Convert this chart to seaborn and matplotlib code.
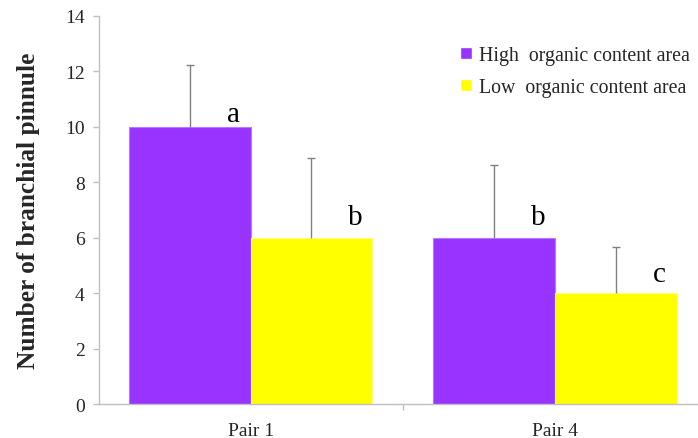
import numpy as np
import pandas as pd
import matplotlib
matplotlib.use("Agg")
import matplotlib.pyplot as plt
import seaborn as sns

# ---------------------------------------------------------------------------
# Data
# ---------------------------------------------------------------------------
pairs = ["Pair 1", "Pair 4"]
areas = ["High  organic content area", "Low  organic content area"]
high_vals = [10, 6]
low_vals = [6, 4]
high_err = [2.24, 2.63]
low_err = [2.88, 1.66]
high_letters = ["a", "b"]
low_letters = ["b", "c"]
high_letter_y = [10.2, 6.5]
low_letter_y = [6.5, 4.45]

colors = {areas[0]: "#9933FF", areas[1]: "#FFFF00"}
edges = {areas[0]: "#B57AFF", areas[1]: "#FFFF80"}

df = pd.DataFrame({
    "pair": pairs * 2,
    "area": [areas[0]] * 2 + [areas[1]] * 2,
    "value": high_vals + low_vals,
})

sns.set_style("white")
plt.rcParams["font.family"] = ["Liberation Serif", "DejaVu Serif"]

fig = plt.figure(figsize=(6.98, 4.39), dpi=100)
W, H = 698, 439
ax = fig.add_axes([98.5 / W, (H - 405.3) / H, (707 - 98.5) / W, (405.3 - 16.7) / H])

sns.barplot(data=df, x="pair", y="value", hue="area", order=pairs,
            hue_order=areas, palette=colors, errorbar=None, width=0.8,
            saturation=1, ax=ax, legend=True)

errs = [high_err, low_err]
letters = [high_letters, low_letters]
letter_y = [high_letter_y, low_letter_y]
bar_containers = list(ax.containers)
for i, cont in enumerate(bar_containers):
    xs = [p.get_x() + p.get_width() / 2 for p in cont.patches]
    hs = [p.get_height() for p in cont.patches]
    for p in cont.patches:
        p.set_edgecolor(edges[areas[i]])
        p.set_linewidth(0.8)
    eb = ax.errorbar(xs, hs, yerr=[np.zeros(len(xs)), errs[i]], fmt="none",
                     ecolor="#808080", elinewidth=1, capsize=3, capthick=1,
                     zorder=3)
    # only the upper cap is drawn in the original
    eb[1][0].set_visible(False)
    for x, ly, lt in zip(xs, letter_y[i], letters[i]):
        ax.text(x + 0.145, ly, lt, ha="center", va="baseline", fontsize=21,
                color="black")

ax.set_xlim(-0.5, 1.5)
ax.set_ylim(0, 14)
ax.set_yticks(np.arange(0, 15, 2))
ax.set_xlabel("")
ax.set_ylabel("Number of branchial pinnule", fontsize=18.3, fontweight="bold",
              labelpad=18)

for s in ["top", "right"]:
    ax.spines[s].set_visible(False)
for s in ["left", "bottom"]:
    ax.spines[s].set_color("#BFBFBF")
    ax.spines[s].set_linewidth(1)

ax.tick_params(axis="y", direction="out", length=4.5, width=1, color="#BFBFBF",
               labelsize=14, pad=5.5, left=True)
ax.tick_params(axis="x", which="major", length=0, labelsize=14, pad=13)
ax.set_xticks([0.5], minor=True)
ax.tick_params(axis="x", which="minor", direction="out", length=4.5, width=1,
               color="#BFBFBF", bottom=True)

handles, labels = ax.get_legend_handles_labels()
ax.legend(handles, labels, loc="upper left", bbox_to_anchor=(460 / W, 1 - 47 / H),
          bbox_transform=fig.transFigure, frameon=False, fontsize=14.3,
          handlelength=0.6, handleheight=0.6, handletextpad=0.35,
          labelspacing=0.65, borderpad=0, borderaxespad=0)

fig.savefig("out.png", dpi=100)
